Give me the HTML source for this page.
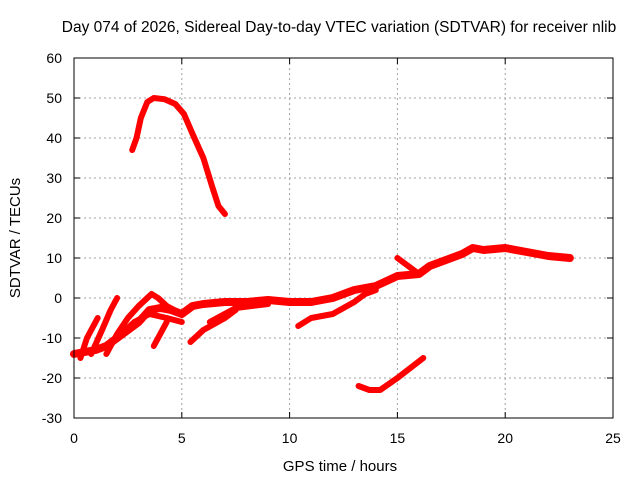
<!DOCTYPE html>
<html><head><meta charset="utf-8"><style>
body{margin:0;background:#fff}
svg{display:block;font-family:"Liberation Sans",sans-serif}
</style></head><body>
<svg id="chart" width="640" height="480">
<rect width="640" height="480" fill="#fff"/>
<text x="339" y="32" font-size="15.5" text-anchor="middle">Day 074 of 2026, Sidereal Day-to-day VTEC variation (SDTVAR) for receiver nlib</text>
<g id="grid"></g><g id="series"></g><g id="axes"></g>
<text x="340" y="471" font-size="15" text-anchor="middle">GPS time / hours</text>
<text x="20" y="238" font-size="15" text-anchor="middle" transform="rotate(-90 20 238)">SDTVAR / TECUs</text>
</svg>
<script>
const xTicks=[0,5,10,15,20,25];
const yTicks=[-30,-20,-10,0,10,20,30,40,50,60];
const arcSeries=[[2.7,37],[2.9,40],[3.1,45],[3.4,49],[3.7,50],[4.2,49.7],[4.7,48.5],[5.1,46],[5.5,41],[6,35],[6.4,28],[6.7,23],[7,21]];
const mainSeries=[[0,-14],[0.5,-13.5],[1,-13],[1.5,-12],[2,-10],[2.5,-8],[3,-6],[3.5,-3],[4,-2.5],[4.5,-3],[5,-4],[5.5,-2],[6,-1.5],[7,-1],[8,-1],[9,-0.5],[10,-1],[11,-1],[12,0],[13,2],[14,3],[15,5.5],[16,6],[16.5,8],[17,9],[18,11],[18.5,12.5],[19,12],[20,12.5],[21,11.5],[22,10.5],[23,10]];
const lowerSeries=[[10.4,-7],[11,-5],[12,-4],[13,-1],[13.5,1],[14,2]];
const dipSeries=[[13.2,-22],[13.7,-23],[14.2,-23],[15,-20],[16.2,-15]];
const spikeSeries=[[15,10],[15.5,8],[16,6]];
const strandA=[[0.3,-15],[0.6,-10],[1.1,-5]];
const strandB=[[0.8,-14],[1.3,-8],[1.7,-3],[2,0]];
const strandC=[[1.5,-14],[2,-9],[2.5,-5],[3,-2],[3.6,1],[3.9,0],[4.3,-2],[5,-4]];
const strandD=[[2,-10],[2.8,-6],[3.5,-4],[4.3,-5],[5,-6]];
const strandE=[[3.7,-12],[4,-9],[4.3,-6]];
const strandF=[[5.4,-11],[6,-8],[7,-5],[7.5,-3]];
const strandG=[[6.3,-6],[7.5,-2.5],[9,-1.5]];
const X=h=>74+h*(539/25), Y=v=>298-v*4;
const NS='http://www.w3.org/2000/svg';
const mk=(t,a,p)=>{const e=document.createElementNS(NS,t);for(const k in a)e.setAttribute(k,a[k]);p.appendChild(e);return e;};
const grid=document.getElementById('grid'),axes=document.getElementById('axes'),ser=document.getElementById('series');
xTicks.forEach(t=>{
 if(t>0&&t<25){const g=mk('line',{x1:X(t),x2:X(t),y1:58,y2:418,stroke:'#a0a0a0','stroke-dasharray':'2,3'},grid);
 
 }
 mk('line',{x1:X(t),x2:X(t),y1:418,y2:412,stroke:'#000'},axes);
 mk('line',{x1:X(t),x2:X(t),y1:58,y2:64,stroke:'#000'},axes);
 const l=mk('text',{x:X(t),y:443,'font-size':14,'text-anchor':'middle'},axes);l.textContent=t;
 
 
});
yTicks.forEach(t=>{
 if(t>-30&&t<60){const g=mk('line',{x1:74,x2:613,y1:Y(t),y2:Y(t),stroke:'#a0a0a0','stroke-dasharray':'2,3'},grid);
 
 }
 mk('line',{x1:74,x2:80,y1:Y(t),y2:Y(t),stroke:'#000'},axes);
 mk('line',{x1:607,x2:613,y1:Y(t),y2:Y(t),stroke:'#000'},axes);
 const l=mk('text',{x:62,y:Y(t)+5,'font-size':14,'text-anchor':'end'},axes);l.textContent=t;
 
 
});
const b=mk('rect',{x:74,y:58,width:539,height:360,fill:'none',stroke:'#000'},axes);


[arcSeries,mainSeries,lowerSeries,dipSeries,spikeSeries,strandA,strandB,strandC,strandD,strandE,strandF,strandG].forEach((s,i)=>{
 const p=mk('polyline',{points:s.map(d=>X(d[0])+','+Y(d[1])).join(' '),fill:'none',stroke:'#ff0000','stroke-width':i==1?8:6,'stroke-linejoin':'round','stroke-linecap':'round'},ser);
 
 
});
</script>
</body></html>
